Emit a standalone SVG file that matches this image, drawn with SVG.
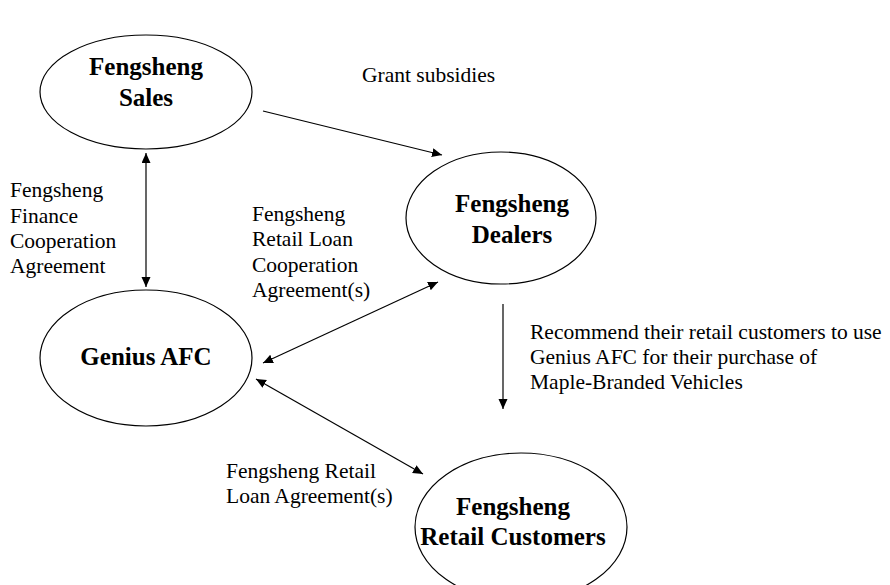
<svg xmlns="http://www.w3.org/2000/svg" width="890" height="585" viewBox="0 0 890 585">
  <style>
    .node ellipse { fill: #fff; stroke: #000; stroke-width: 1.2; }
    .node text { font-family: "Liberation Serif", "Times New Roman", serif; font-weight: bold; font-size: 25px; fill: #000; text-anchor: middle; }
    .label { font-family: "Liberation Serif", "Times New Roman", serif; font-size: 21.5px; fill: #000; }
    .edge { stroke: #000; stroke-width: 1.2; fill: none; }
  </style>
  <defs>
    <marker id="arrow" markerUnits="userSpaceOnUse" markerWidth="12" markerHeight="10" refX="10" refY="4.5" orient="auto-start-reverse" viewBox="0 0 12 10">
      <path d="M0,0 L10,4.5 L0,9 z" fill="#000"/>
    </marker>
  </defs>
  <rect width="890" height="585" fill="#fff"/>

  <g id="connectors">
    <line class="edge" x1="146" y1="153" x2="146" y2="287" marker-start="url(#arrow)" marker-end="url(#arrow)"/>
    <line class="edge" x1="263" y1="111" x2="442" y2="155" marker-end="url(#arrow)"/>
    <line class="edge" x1="263" y1="363" x2="438" y2="282" marker-start="url(#arrow)" marker-end="url(#arrow)"/>
    <line class="edge" x1="256" y1="379" x2="423" y2="474" marker-start="url(#arrow)" marker-end="url(#arrow)"/>
    <line class="edge" x1="503" y1="304" x2="503" y2="409" marker-end="url(#arrow)"/>
  </g>

  <g id="sales" class="node">
    <ellipse cx="146" cy="92" rx="106" ry="57"/>
    <text x="146" y="75">Fengsheng</text>
    <text x="146" y="106">Sales</text>
  </g>

  <g id="dealers" class="node">
    <ellipse cx="501" cy="218" rx="95" ry="66"/>
    <text x="512" y="212">Fengsheng</text>
    <text x="512" y="243">Dealers</text>
  </g>

  <g id="genius-afc" class="node">
    <ellipse cx="146" cy="358" rx="106" ry="68"/>
    <text x="146" y="365">Genius AFC</text>
  </g>

  <g id="retail-customers" class="node">
    <ellipse cx="521" cy="527" rx="106" ry="74"/>
    <text x="513" y="515">Fengsheng</text>
    <text x="513" y="545">Retail Customers</text>
  </g>

  <g id="edge-labels">
    <text class="label" x="362" y="82">Grant subsidies</text>
    <text class="label" x="10" y="197">
      <tspan x="10" y="197">Fengsheng</tspan>
      <tspan x="10" y="222.5">Finance</tspan>
      <tspan x="10" y="247.5">Cooperation</tspan>
      <tspan x="10" y="272.5">Agreement</tspan>
    </text>
    <text class="label" x="252" y="221">
      <tspan x="252" y="221">Fengsheng</tspan>
      <tspan x="252" y="246">Retail Loan</tspan>
      <tspan x="252" y="271.5">Cooperation</tspan>
      <tspan x="252" y="296.5">Agreement(s)</tspan>
    </text>
    <text class="label" x="530" y="339">
      <tspan x="530" y="339">Recommend their retail customers to use</tspan>
      <tspan x="530" y="364">Genius AFC for their purchase of</tspan>
      <tspan x="530" y="389">Maple-Branded Vehicles</tspan>
    </text>
    <text class="label" x="226" y="478">
      <tspan x="226" y="478">Fengsheng Retail</tspan>
      <tspan x="226" y="503">Loan Agreement(s)</tspan>
    </text>
  </g>
</svg>
